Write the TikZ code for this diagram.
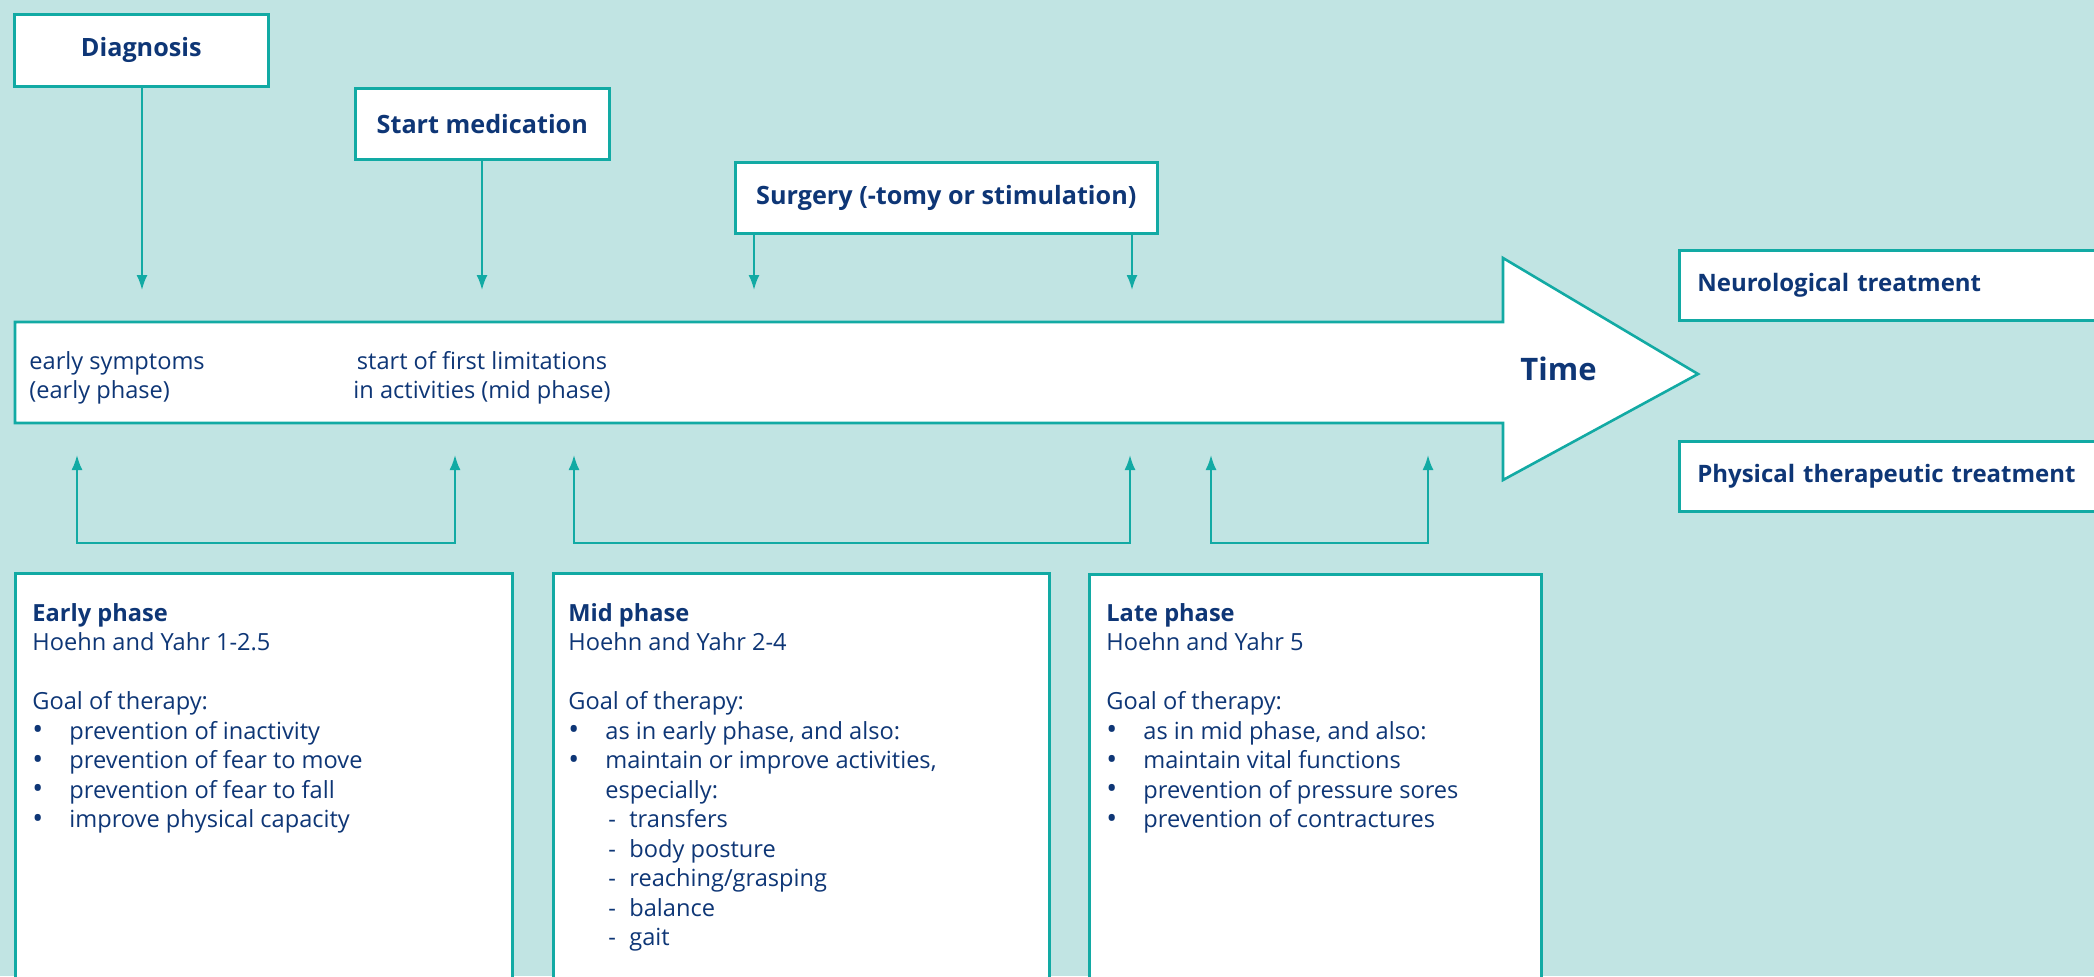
\documentclass[tikz,border=0pt]{standalone}
\usepackage{fontspec}
\setmainfont{Open Sans}
\usetikzlibrary{arrows.meta}
\definecolor{bgc}{RGB}{193,228,227}
\definecolor{tealc}{RGB}{18,170,164}
\definecolor{navy}{RGB}{14,54,118}
\newcommand{\bul}{\makebox[18.5pt][l]{\smash{\raisebox{-0.3pt}{\fontsize{14.5}{14.75}\selectfont\textbullet}}}}
\newcommand{\sub}{\hspace*{20pt}\makebox[10.5pt][l]{-}}
\begin{document}
\begin{tikzpicture}[x=0.5pt,y=-0.5pt,
  box/.style={draw=tealc, line width=1.3pt, fill=white, inner sep=0pt},
  lbl/.style={text=navy, font=\fontsize{12.6}{15}\selectfont\bfseries},
  legend/.style={box, text=navy, font=\fontsize{12}{15}\selectfont\bfseries, anchor=north west, minimum width=216pt, minimum height=35pt, text width=198pt, inner xsep=9pt, align=left},
  body/.style={text=navy, font=\fontsize{11.8}{14.75}\selectfont, align=left, inner sep=0pt, anchor=north west},
  conn/.style={draw=tealc, line width=1pt, -{Latex[length=7.5pt,width=5.5pt]}},
  bconn/.style={draw=tealc, line width=1pt, {Latex[length=7.5pt,width=5.5pt]}-{Latex[length=7.5pt,width=5.5pt]}}]
\clip (0,0) rectangle (2094,976);
\fill[bgc] (0,0) rectangle (2094,976);
\useasboundingbox (0,0) rectangle (2094,976);

% top event boxes
\node[box, lbl, anchor=north west, minimum width=127pt, minimum height=36pt] (diag) at (13,13) {Diagnosis};
\node[box, lbl, anchor=north west, minimum width=127pt, minimum height=35.5pt] (med) at (354,87) {Start medication};
\node[box, lbl, anchor=north west, minimum width=211pt, minimum height=35.5pt] (surg) at (734,161) {Surgery (-tomy or stimulation)};

% big time arrow
\draw[draw=tealc, line width=1.3pt, fill=white] (15,322) -- (1503,322) -- (1503,258) -- (1698,374) -- (1503,480) -- (1503,423) -- (15,423) -- cycle;
\node[lbl, font=\fontsize{15.5}{18}\selectfont\bfseries, anchor=base west, inner sep=0pt] (time) at (1520,380) {Time};
\node[body] (es) at (29,351) {early symptoms\\(early phase)};
\node[body, align=center, anchor=north] (lim) at (482,351) {start of first limitations\\in activities (mid phase)};

% legend boxes
\node[legend] (neuro) at (1678,249) {\mbox{Neurological treatment}};
\node[legend] (phys) at (1678,440) {\mbox{Physical therapeutic treatment}};

% arrow tips on the time line
\coordinate (t1) at (142,290);
\coordinate (t2) at (482,290);
\coordinate (t3) at (754,290);
\coordinate (t4) at (1132,290);
\draw[conn] (diag.south -| t1) -- (t1);
\draw[conn] (med.south -| t2) -- (t2);
\draw[conn] (surg.south -| t3) -- (t3);
\draw[conn] (surg.south -| t4) -- (t4);

% phase boxes
\node[box, anchor=north west, minimum width=248.5pt, minimum height=220pt] (early) at (14,572) {};
\node[box, anchor=north west, minimum width=248pt, minimum height=220pt] (mid) at (552,572) {};
\node[box, anchor=north west, minimum width=226pt, minimum height=220pt] (late) at (1088,573) {};

\node[body] (earlyt) at (32,603) {\textbf{Early phase}\\
Hoehn and Yahr 1-2.5\\[14.75pt]
Goal of therapy:\\
\bul prevention of inactivity\\
\bul prevention of fear to move\\
\bul prevention of fear to fall\\
\bul improve physical capacity};

\node[body] (midt) at (568,603) {\textbf{Mid phase}\\
Hoehn and Yahr 2-4\\[14.75pt]
Goal of therapy:\\
\bul as in early phase, and also:\\
\bul maintain or improve activities,\\
\hspace*{18.5pt}especially:\\
\sub transfers\\
\sub body posture\\
\sub reaching/grasping\\
\sub balance\\
\sub gait};

\node[body] (latet) at (1106,603) {\textbf{Late phase}\\
Hoehn and Yahr 5\\[14.75pt]
Goal of therapy:\\
\bul as in mid phase, and also:\\
\bul maintain vital functions\\
\bul prevention of pressure sores\\
\bul prevention of contractures};

% brackets below the time line
\coordinate (b1) at (77,455);
\coordinate (b2) at (455,455);
\coordinate (b3) at (574,455);
\coordinate (b4) at (1130,455);
\coordinate (b5) at (1211,455);
\coordinate (b6) at (1428,455);
\draw[bconn] (b1) -- (77,543) -- (455,543) -- (b2);
\draw[bconn] (b3) -- (574,543) -- (1130,543) -- (b4);
\draw[bconn] (b5) -- (1211,543) -- (1428,543) -- (b6);
\end{tikzpicture}
\end{document}
